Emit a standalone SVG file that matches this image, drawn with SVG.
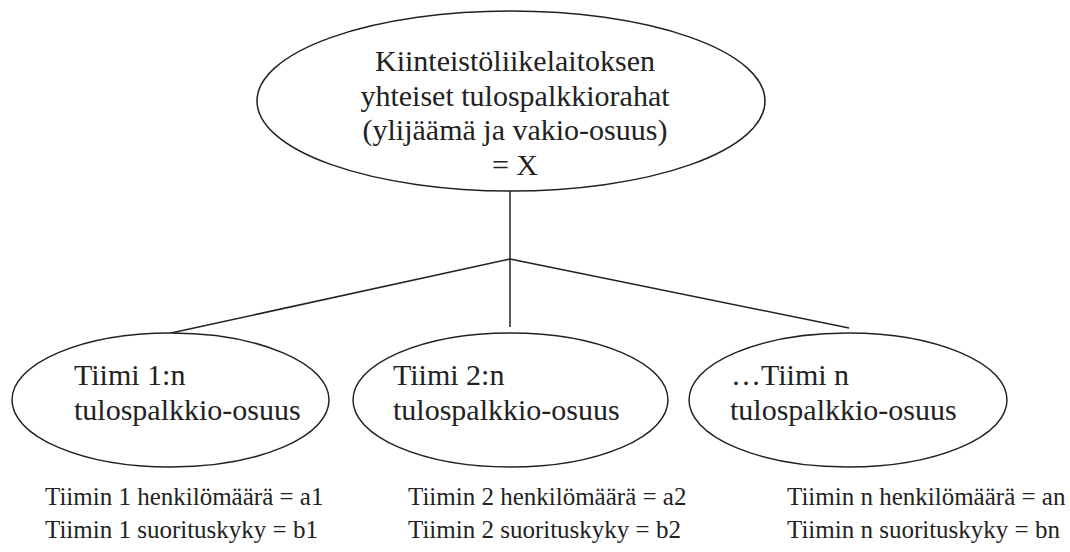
<svg xmlns="http://www.w3.org/2000/svg" width="1070" height="552" viewBox="0 0 1070 552">
<style>
.shape{fill:#fff;stroke:#222;stroke-width:1.5}
.conn{stroke:#222;stroke-width:1.5;fill:none}
.big{font-family:"Liberation Serif","Times New Roman",serif;font-size:30px;fill:#222}
.small{font-family:"Liberation Serif","Times New Roman",serif;font-size:25px;fill:#222}
</style>
<rect width="1070" height="552" fill="#fff"/>
<g id="connectors">
<line class="conn" x1="510" y1="191" x2="510" y2="327"/>
<line class="conn" x1="510" y1="259" x2="171" y2="333"/>
<line class="conn" x1="510" y1="259" x2="849" y2="328"/>
</g>
<g id="top">
<ellipse class="shape" cx="511" cy="101" rx="254" ry="90"/>
<text class="big" text-anchor="middle" x="515" y="71">Kiinteistöliikelaitoksen</text>
<text class="big" text-anchor="middle" x="515" y="105.5">yhteiset tulospalkkiorahat</text>
<text class="big" text-anchor="middle" x="515" y="140">(ylijäämä ja vakio-osuus)</text>
<text class="big" text-anchor="middle" x="515" y="175">= X</text>
</g>
<g id="team1">
<ellipse class="shape" cx="170.5" cy="400" rx="158.5" ry="67"/>
<text class="big" x="74" y="385">Tiimi 1:n</text>
<text class="big" x="74" y="420">tulospalkkio-osuus</text>
</g>
<g id="team2">
<ellipse class="shape" cx="510.5" cy="400" rx="157.5" ry="67"/>
<text class="big" x="393" y="385">Tiimi 2:n</text>
<text class="big" x="393" y="420">tulospalkkio-osuus</text>
</g>
<g id="teamn">
<ellipse class="shape" cx="848" cy="400" rx="159" ry="67"/>
<text class="big" x="731" y="385">…Tiimi n</text>
<text class="big" x="730" y="420">tulospalkkio-osuus</text>
</g>
<g id="labels">
<text class="small" x="45" y="505">Tiimin 1 henkilömäärä = a1</text>
<text class="small" x="45" y="538">Tiimin 1 suorituskyky = b1</text>
<text class="small" x="408" y="505">Tiimin 2 henkilömäärä = a2</text>
<text class="small" x="408" y="538">Tiimin 2 suorituskyky = b2</text>
<text class="small" x="787" y="505">Tiimin n henkilömäärä = an</text>
<text class="small" x="787" y="538">Tiimin n suorituskyky = bn</text>
</g>
</svg>
